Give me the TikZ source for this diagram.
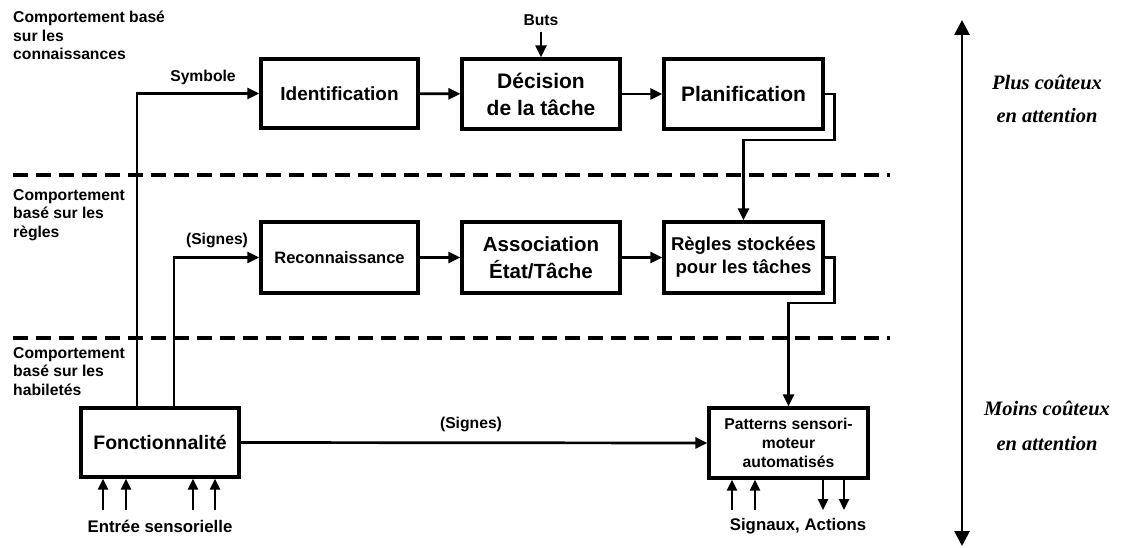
\documentclass[tikz,border=0pt]{standalone}
\usepackage{fontspec}
\setmainfont{Liberation Sans}
\newfontfamily\tnr{Liberation Serif}
\usetikzlibrary{arrows.meta,calc}
\begin{document}
\begin{tikzpicture}[x=1pt,y=-1pt,
  box/.style={draw, line width=3.2pt, minimum width=158pt, minimum height=70pt, inner sep=0pt, align=center},
  conn/.style={line width=2.7pt, -{Triangle[length=12pt,width=11pt]}},
  small/.style={line width=2.4pt, -{Triangle[length=11pt,width=10pt]}},
  sep/.style={line width=3.2pt, dash pattern=on 15pt off 8pt},
  lbl/.style={font=\bfseries\fontsize{15.7}{18.5}\selectfont, inner sep=0pt, align=left, anchor=north west},
  tag/.style={font=\bfseries\fontsize{15.7}{18}\selectfont, inner sep=0pt},
  cost/.style={font=\tnr\bfseries\itshape\fontsize{20.5}{33}\selectfont, align=center, inner sep=0pt}
]
\useasboundingbox (0,0) rectangle (1124,548);

% level separators
\draw[sep] (13,175) -- (890,175);
\draw[sep] (13,338) -- (890,338);

% level labels
\node[lbl] (l1) at (13,11) {Comportement basé\\sur les\\connaissances};
\node[lbl] (l2) at (13,189) {Comportement\\basé sur les\\règles};
\node[lbl] (l3) at (13,347) {Comportement\\basé sur les\\habiletés};

% boxes
\node[box, minimum width=157pt, minimum height=69pt, font=\bfseries\fontsize{19}{23}\selectfont] (ident) at (339.5,93.5) {Identification};
\node[box, font=\bfseries\fontsize{21}{27}\selectfont] (decis) at (541,94) {Décision\\de la tâche};
\node[box, minimum width=159pt, font=\bfseries\fontsize{21}{27}\selectfont] (plan) at (743.5,94) {Planification};
\node[box, minimum width=157pt, minimum height=71pt, font=\bfseries\fontsize{16.5}{20}\selectfont] (recon) at (339.5,257.5) {Reconnaissance};
\node[box, minimum height=71pt, font=\bfseries\fontsize{20.5}{27}\selectfont] (assoc) at (541,257.5) {Association\\État/Tâche};
\node[box, minimum width=159pt, minimum height=71pt, font=\bfseries\fontsize{18.5}{23}\selectfont] (regles) at (743.5,257.5) {Règles stockées\\pour les tâches};
\node[box, minimum height=69pt, font=\bfseries\fontsize{19.5}{23}\selectfont] (fonct) at (160,442.5) {Fonctionnalité};
\node[box, minimum width=159pt, font=\bfseries\fontsize{15.7}{19}\selectfont] (patt) at (788.5,443) {Patterns sensori-\\moteur\\automatisés};

% tags
\node[tag] (buts) at (541,20) {Buts};
\node[tag] (symb) at (203,77) {Symbole};
\node[tag] (sig1) at (217,240) {(Signes)};
\node[tag] (sig2) at (471,424) {(Signes)};
\node[tag, font=\bfseries\fontsize{16.8}{20}\selectfont] (entree) at (160,526) {Entrée sensorielle};
\node[tag, font=\bfseries\fontsize{16.8}{20}\selectfont] (signaux) at (798,526) {Signaux, Actions};

% connectors
\coordinate (vs) at (137,95);
\coordinate (vr) at (174,257);
\draw[conn] (fonct.north -| vs) |- (ident.west);
\draw[conn] (fonct.north -| vr) |- (recon.west);
\draw[conn] (ident) -- (decis);
\draw[conn] (decis) -- (plan);
\draw[conn] (recon) -- (assoc);
\draw[conn] (assoc) -- (regles);
\draw[conn] ($(buts.south)+(0,6)$) -- (decis.north);
\coordinate (k1) at (743.5,140);
\coordinate (k2) at (788.5,303);
\draw[conn] (plan.east) -- ++(10,0) |- (k1) -- (regles.north);
\draw[conn] (regles.east) -- ++(10,0) |- (k2) -- (patt.north);
\draw[conn] (fonct.east) -- (patt.west);

% sensory inputs
\coordinate (e1) at (103,510);
\coordinate (e2) at (126,510);
\coordinate (e3) at (193,510);
\coordinate (e4) at (215,510);
\foreach \c in {e1,e2,e3,e4} \draw[small] (\c) -- (\c |- fonct.south);
\coordinate (s1) at (732,510);
\coordinate (s2) at (755,510);
\coordinate (s3) at (823,510);
\coordinate (s4) at (844,510);
\draw[small] (s1) -- (s1 |- patt.south);
\draw[small] (s2) -- (s2 |- patt.south);
\draw[small] (s3 |- patt.south) -- (s3);
\draw[small] (s4 |- patt.south) -- (s4);

% attention cost axis
\coordinate (hi) at (962,20);
\coordinate (lo) at (962,546);
\draw[line width=2.8pt, {Triangle[length=15pt,width=15pt]}-{Triangle[length=15pt,width=15pt]}] (hi) -- (lo);
\node[cost] (plus) at (1047,98.5) {Plus coûteux\\en attention};
\node[cost, font=\tnr\bfseries\itshape\fontsize{20.5}{35}\selectfont] (moins) at (1047,425.5) {Moins coûteux\\en attention};
\end{tikzpicture}
\end{document}
